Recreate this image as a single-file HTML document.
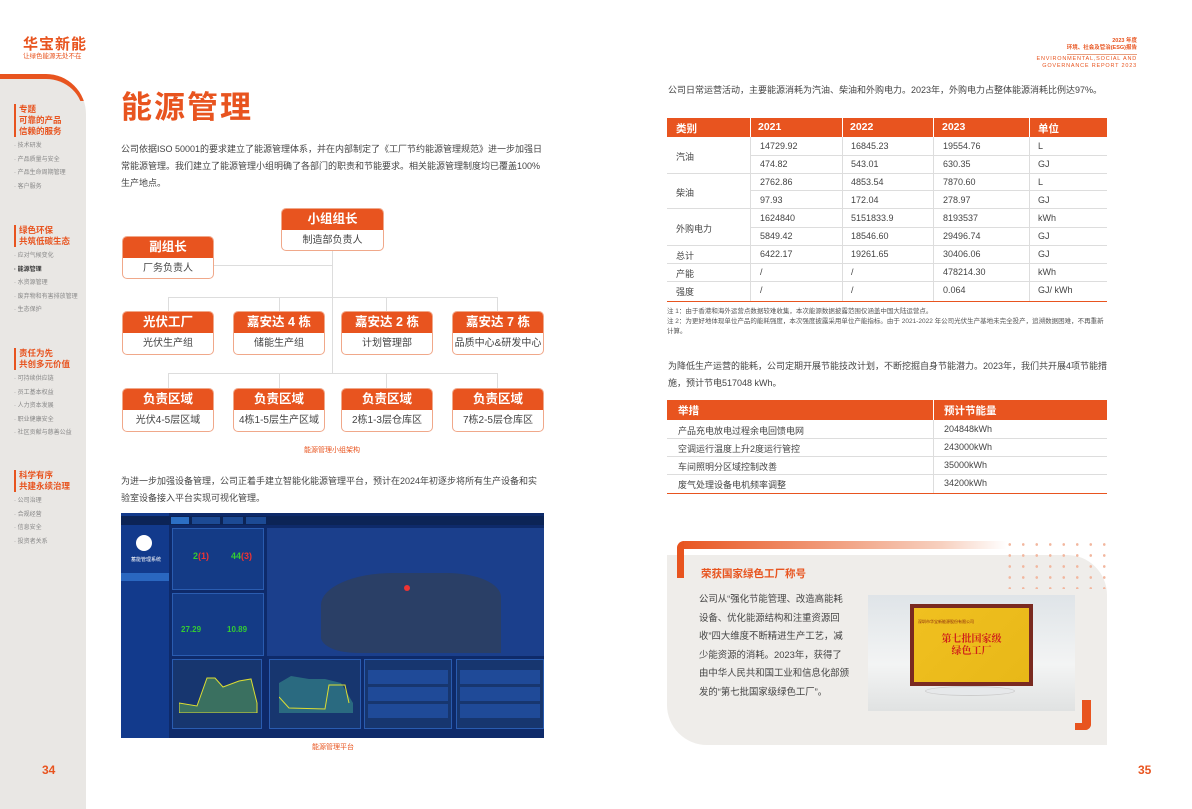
<!DOCTYPE html>
<html><head><meta charset="utf-8">
<style>
*{margin:0;padding:0;box-sizing:border-box}
body{width:1192px;height:809px;position:relative;background:#fff;font-family:"Liberation Sans","Noto Sans CJK SC",sans-serif;color:#444;overflow:hidden}
.a{position:absolute}
.or{color:#e8541f}
.box{position:absolute;border:1px solid #f0a88a;border-radius:5px;background:#fff;overflow:hidden}
.box .h{background:#e8541f;color:#fff;font-size:12.5px;font-weight:bold;text-align:center;height:21px;line-height:21px}
.box .b{font-size:10px;color:#444;text-align:center;line-height:22px}
.ln{position:absolute;background:#ddd}
.side .t{font-size:8.5px;font-weight:bold;color:#e8541f;line-height:11px;border-left:2px solid #e8541f;padding-left:3px}
.side .i{font-size:6px;color:#888;line-height:13.5px}
.tb{position:absolute;font-size:9px;color:#444}
.hd{position:absolute;background:#e8541f;color:#fff;font-weight:bold;font-size:10.5px}
.sep{position:absolute;height:1px;background:#ddd}
p{font-size:9px;line-height:17px;color:#444}
</style></head><body>

<!-- sidebar -->
<div class="a" style="left:0;top:74px;width:86px;height:735px;background:#e9e7e4;border-top-right-radius:40px"></div>
<div class="a" style="left:0;top:74px;width:86px;height:60px;border-top:5px solid #e8541f;border-right:3px solid #e8541f;border-top-right-radius:40px;clip-path:polygon(0 0,100% 0,100% 45%,0 45%)"></div>
<div class="a or" style="left:23px;top:33px;font-size:15px;font-weight:bold;letter-spacing:1px">华宝新能</div>
<div class="a or" style="left:23px;top:50px;font-size:6.5px">让绿色能源无处不在</div>
<div class="a side" style="left:14px;top:104px;width:72px">
 <div class="t">专题<br>可靠的产品<br>信赖的服务</div>
 <div class="i" style="margin-top:3px">· 技术研发<br>· 产品质量与安全<br>· 产品生命周期管理<br>· 客户服务</div>
</div>
<div class="a side" style="left:14px;top:225px;width:72px">
 <div class="t">绿色环保<br>共筑低碳生态</div>
 <div class="i" style="margin-top:3px">· 应对气候变化<br><b style="color:#333">· 能源管理</b><br>· 水资源管理<br>· 废弃物和有害排放管理<br>· 生态保护</div>
</div>
<div class="a side" style="left:14px;top:348px;width:72px">
 <div class="t">责任为先<br>共创多元价值</div>
 <div class="i" style="margin-top:3px">· 可持续供应链<br>· 员工基本权益<br>· 人力资本发展<br>· 职业健康安全<br>· 社区贡献与慈善公益</div>
</div>
<div class="a side" style="left:14px;top:470px;width:72px">
 <div class="t">科学有序<br>共建永续治理</div>
 <div class="i" style="margin-top:3px">· 公司治理<br>· 合规经营<br>· 信息安全<br>· 投资者关系</div>
</div>
<div class="a or" style="left:42px;top:763px;font-size:12px;font-weight:bold">34</div>
<div class="a or" style="left:1138px;top:763px;font-size:12px;font-weight:bold">35</div>

<!-- header right -->
<div class="a or" style="right:55px;top:38px;font-size:5.5px;text-align:right;font-weight:bold;line-height:7px">2023 年度<br>环境、社会及管治(ESG)报告</div>
<div class="a" style="left:1067px;top:54px;width:70px;height:1px;background:#e8a080"></div>
<div class="a or" style="right:55px;top:56px;font-size:5.5px;text-align:right;letter-spacing:.8px;line-height:7px">ENVIRONMENTAL,SOCIAL AND<br>GOVERNANCE REPORT 2023</div>

<!-- title -->
<div class="a or" style="left:121px;top:82px;font-size:31px;font-weight:bold;letter-spacing:2px">能源管理</div>
<p class="a" style="left:121px;top:141px;width:425px">公司依据ISO 50001的要求建立了能源管理体系，并在内部制定了《工厂节约能源管理规范》进一步加强日常能源管理。我们建立了能源管理小组明确了各部门的职责和节能要求。相关能源管理制度均已覆盖100%生产地点。</p>

<!-- org chart lines -->
<div class="ln" style="left:332px;top:251px;width:1px;height:122px"></div>
<div class="ln" style="left:213px;top:265px;width:119px;height:1px"></div>
<div class="ln" style="left:168px;top:297px;width:330px;height:1px"></div>
<div class="ln" style="left:168px;top:373px;width:330px;height:1px"></div>
<div class="ln" style="left:168px;top:297px;width:1px;height:14px"></div>
<div class="ln" style="left:279px;top:297px;width:1px;height:14px"></div>
<div class="ln" style="left:386px;top:297px;width:1px;height:14px"></div>
<div class="ln" style="left:497px;top:297px;width:1px;height:14px"></div>
<div class="ln" style="left:168px;top:373px;width:1px;height:15px"></div>
<div class="ln" style="left:279px;top:373px;width:1px;height:15px"></div>
<div class="ln" style="left:386px;top:373px;width:1px;height:15px"></div>
<div class="ln" style="left:497px;top:373px;width:1px;height:15px"></div>

<div class="box" style="left:281px;top:208px;width:103px;height:43px"><div class="h">小组组长</div><div class="b">制造部负责人</div></div>
<div class="box" style="left:122px;top:236px;width:92px;height:43px"><div class="h">副组长</div><div class="b">厂务负责人</div></div>
<div class="box" style="left:122px;top:311px;width:92px;height:44px"><div class="h">光伏工厂</div><div class="b">光伏生产组</div></div>
<div class="box" style="left:233px;top:311px;width:92px;height:44px"><div class="h">嘉安达 4 栋</div><div class="b">储能生产组</div></div>
<div class="box" style="left:341px;top:311px;width:92px;height:44px"><div class="h">嘉安达 2 栋</div><div class="b">计划管理部</div></div>
<div class="box" style="left:452px;top:311px;width:92px;height:44px"><div class="h">嘉安达 7 栋</div><div class="b">品质中心&amp;研发中心</div></div>
<div class="box" style="left:122px;top:388px;width:92px;height:44px"><div class="h">负责区域</div><div class="b">光伏4-5层区域</div></div>
<div class="box" style="left:233px;top:388px;width:92px;height:44px"><div class="h">负责区域</div><div class="b">4栋1-5层生产区域</div></div>
<div class="box" style="left:341px;top:388px;width:92px;height:44px"><div class="h">负责区域</div><div class="b">2栋1-3层仓库区</div></div>
<div class="box" style="left:452px;top:388px;width:92px;height:44px"><div class="h">负责区域</div><div class="b">7栋2-5层仓库区</div></div>
<div class="a or" style="left:304px;top:445px;font-size:7px">能源管理小组架构</div>

<p class="a" style="left:121px;top:473px;width:425px">为进一步加强设备管理，公司正着手建立智能化能源管理平台，预计在2024年初逐步将所有生产设备和实验室设备接入平台实现可视化管理。</p>

<!-- dashboard -->
<div class="a" style="left:121px;top:513px;width:423px;height:225px;background:#0e2a6a;overflow:hidden">
 <div class="a" style="left:0;top:0;width:48px;height:225px;background:#123a8c"></div>
 <div class="a" style="left:15px;top:22px;width:16px;height:16px;border-radius:50%;background:#fff"></div>
 <div class="a" style="left:10px;top:43px;font-size:5px;color:#fff">蓄能管理系统</div>
 <div class="a" style="left:0;top:60px;width:48px;height:8px;background:#2a67c0"></div>
 <div class="a" style="left:0;top:3px;width:423px;height:9px;background:#0c2456"></div>
 <div class="a" style="left:50px;top:4px;width:18px;height:7px;background:#2c6fc4"></div>
 <div class="a" style="left:71px;top:4px;width:28px;height:7px;background:#1c4a94"></div>
 <div class="a" style="left:102px;top:4px;width:20px;height:7px;background:#1c4a94"></div>
 <div class="a" style="left:125px;top:4px;width:20px;height:7px;background:#1c4a94"></div>
 <div class="a" style="left:51px;top:15px;width:92px;height:62px;background:#143b86;border:1px solid #2a5cb0"></div>
 <div class="a" style="left:51px;top:80px;width:92px;height:63px;background:#143b86;border:1px solid #2a5cb0"></div>
 <div class="a" style="left:72px;top:38px;font-size:9px;color:#3c3;font-weight:bold">2<span style="color:#e33">(1)</span></div>
 <div class="a" style="left:110px;top:38px;font-size:9px;color:#3c3;font-weight:bold">44<span style="color:#e33">(3)</span></div>
 <div class="a" style="left:60px;top:112px;font-size:8px;color:#3c3;font-weight:bold">27.29</div>
 <div class="a" style="left:106px;top:112px;font-size:8px;color:#3c3;font-weight:bold">10.89</div>
 <div class="a" style="left:146px;top:15px;width:277px;height:128px;background:#1b3f8c"></div>
 <div class="a" style="left:200px;top:60px;width:180px;height:80px;background:#2a3f66;border-radius:40% 30% 0 20%"></div>
 <div class="a" style="left:283px;top:72px;width:6px;height:6px;border-radius:50%;background:#e33"></div>
 <div class="a" style="left:51px;top:146px;width:90px;height:70px;background:#17366f;border:1px solid #2a5cb0"></div>
 <div class="a" style="left:148px;top:146px;width:92px;height:70px;background:#17366f;border:1px solid #2a5cb0"></div>
 <svg class="a" style="left:58px;top:160px" width="80" height="40"><path d="M0,30 L18,33 L28,5 L36,5 L44,14 L60,8 L72,6 L78,30 L78,40 L0,40Z" fill="#3a7060" stroke="#dd3" stroke-width="1"/></svg>
 <svg class="a" style="left:158px;top:160px" width="76" height="40"><path d="M0,10 L12,3 L30,6 L46,6 L62,10 L74,30 L74,40 L0,40Z" fill="#2a6a80"/><path d="M0,24 L10,35 L46,36 L50,12 L66,12 L70,30" fill="none" stroke="#dd3"/></svg>
 <div class="a" style="left:243px;top:146px;width:88px;height:70px;background:#17366f;border:1px solid #2a5cb0"></div>
 <div class="a" style="left:335px;top:146px;width:88px;height:70px;background:#17366f;border:1px solid #2a5cb0"></div>
 <div class="a" style="left:247px;top:157px;width:80px;height:14px;background:#1f4a98"></div>
 <div class="a" style="left:247px;top:174px;width:80px;height:14px;background:#1f4a98"></div>
 <div class="a" style="left:247px;top:191px;width:80px;height:14px;background:#1f4a98"></div>
 <div class="a" style="left:339px;top:157px;width:80px;height:14px;background:#1f4a98"></div>
 <div class="a" style="left:339px;top:174px;width:80px;height:14px;background:#1f4a98"></div>
 <div class="a" style="left:339px;top:191px;width:80px;height:14px;background:#1f4a98"></div>
</div>
<div class="a or" style="left:312px;top:742px;font-size:7px">能源管理平台</div>

<!-- right page -->
<p class="a" style="left:668px;top:82px;width:440px">公司日常运营活动，主要能源消耗为汽油、柴油和外购电力。2023年，外购电力占整体能源消耗比例达97%。</p>

<div class="hd" style="left:667px;top:118px;width:440px;height:19px"></div>
<div class="a" style="left:750px;top:118px;width:1px;height:19px;background:#fff"></div>
<div class="a" style="left:842px;top:118px;width:1px;height:19px;background:#fff"></div>
<div class="a" style="left:933px;top:118px;width:1px;height:19px;background:#fff"></div>
<div class="a" style="left:1029px;top:118px;width:1px;height:19px;background:#fff"></div>
<div class="a" style="left:676px;top:121px;color:#fff;font-weight:bold;font-size:10.5px">类别</div>
<div class="a" style="left:758px;top:121px;color:#fff;font-weight:bold;font-size:10.5px">2021</div>
<div class="a" style="left:850px;top:121px;color:#fff;font-weight:bold;font-size:10.5px">2022</div>
<div class="a" style="left:942px;top:121px;color:#fff;font-weight:bold;font-size:10.5px">2023</div>
<div class="a" style="left:1038px;top:121px;color:#fff;font-weight:bold;font-size:10.5px">单位</div>

<div class="sep" style="left:750px;top:155px;width:357px"></div>
<div class="sep" style="left:667px;top:173px;width:440px"></div>
<div class="sep" style="left:750px;top:190px;width:357px"></div>
<div class="sep" style="left:667px;top:208px;width:440px"></div>
<div class="sep" style="left:750px;top:227px;width:357px"></div>
<div class="sep" style="left:667px;top:245px;width:440px"></div>
<div class="sep" style="left:667px;top:263px;width:440px"></div>
<div class="sep" style="left:667px;top:281px;width:440px"></div>
<div class="a" style="left:667px;top:301px;width:440px;height:1px;background:#e8541f"></div>
<div class="a" style="left:750px;top:137px;width:1px;height:164px;background:#ddd"></div>
<div class="a" style="left:842px;top:137px;width:1px;height:164px;background:#ddd"></div>
<div class="a" style="left:933px;top:137px;width:1px;height:164px;background:#ddd"></div>
<div class="a" style="left:1029px;top:137px;width:1px;height:164px;background:#ddd"></div>

<div class="tb" style="left:676px;top:150px">汽油</div>
<div class="tb" style="left:676px;top:186px">柴油</div>
<div class="tb" style="left:676px;top:222px">外购电力</div>
<div class="tb" style="left:676px;top:249px">总计</div>
<div class="tb" style="left:676px;top:267px">产能</div>
<div class="tb" style="left:676px;top:285px">强度</div>

<div class="tb" style="left:760px;top:141px">14729.92</div><div class="tb" style="left:851px;top:141px">16845.23</div><div class="tb" style="left:943px;top:141px">19554.76</div><div class="tb" style="left:1038px;top:141px">L</div>
<div class="tb" style="left:760px;top:159px">474.82</div><div class="tb" style="left:851px;top:159px">543.01</div><div class="tb" style="left:943px;top:159px">630.35</div><div class="tb" style="left:1038px;top:159px">GJ</div>
<div class="tb" style="left:760px;top:177px">2762.86</div><div class="tb" style="left:851px;top:177px">4853.54</div><div class="tb" style="left:943px;top:177px">7870.60</div><div class="tb" style="left:1038px;top:177px">L</div>
<div class="tb" style="left:760px;top:195px">97.93</div><div class="tb" style="left:851px;top:195px">172.04</div><div class="tb" style="left:943px;top:195px">278.97</div><div class="tb" style="left:1038px;top:195px">GJ</div>
<div class="tb" style="left:760px;top:213px">1624840</div><div class="tb" style="left:851px;top:213px">5151833.9</div><div class="tb" style="left:943px;top:213px">8193537</div><div class="tb" style="left:1038px;top:213px">kWh</div>
<div class="tb" style="left:760px;top:231px">5849.42</div><div class="tb" style="left:851px;top:231px">18546.60</div><div class="tb" style="left:943px;top:231px">29496.74</div><div class="tb" style="left:1038px;top:231px">GJ</div>
<div class="tb" style="left:760px;top:249px">6422.17</div><div class="tb" style="left:851px;top:249px">19261.65</div><div class="tb" style="left:943px;top:249px">30406.06</div><div class="tb" style="left:1038px;top:249px">GJ</div>
<div class="tb" style="left:760px;top:267px">/</div><div class="tb" style="left:851px;top:267px">/</div><div class="tb" style="left:943px;top:267px">478214.30</div><div class="tb" style="left:1038px;top:267px">kWh</div>
<div class="tb" style="left:760px;top:285px">/</div><div class="tb" style="left:851px;top:285px">/</div><div class="tb" style="left:943px;top:285px">0.064</div><div class="tb" style="left:1038px;top:285px">GJ/ kWh</div>

<div class="a" style="left:667px;top:307px;width:440px;font-size:6.5px;line-height:10px;color:#555">注 1：由于香港和海外运营点数据较难收集，本次能源数据披露范围仅涵盖中国大陆运营点。<br>注 2：为更好地体现单位产品的能耗强度，本次强度披露采用单位产能指标。由于 2021-2022 年公司光伏生产基地未完全投产，追溯数据困难，不再重新计算。</div>

<p class="a" style="left:668px;top:358px;width:440px">为降低生产运营的能耗，公司定期开展节能技改计划，不断挖掘自身节能潜力。2023年，我们共开展4项节能措施，预计节电517048 kWh。</p>

<div class="hd" style="left:667px;top:400px;width:440px;height:20px"></div>
<div class="a" style="left:933px;top:400px;width:1px;height:20px;background:#fff"></div>
<div class="a" style="left:678px;top:403px;color:#fff;font-weight:bold;font-size:10.5px">举措</div>
<div class="a" style="left:944px;top:403px;color:#fff;font-weight:bold;font-size:10.5px">预计节能量</div>
<div class="a" style="left:933px;top:420px;width:1px;height:73px;background:#ddd"></div>
<div class="sep" style="left:667px;top:438px;width:440px"></div>
<div class="sep" style="left:667px;top:456px;width:440px"></div>
<div class="sep" style="left:667px;top:474px;width:440px"></div>
<div class="a" style="left:667px;top:493px;width:440px;height:1px;background:#e8541f"></div>
<div class="tb" style="left:678px;top:424px">产品充电放电过程余电回馈电网</div><div class="tb" style="left:944px;top:424px">204848kWh</div>
<div class="tb" style="left:678px;top:442px">空调运行温度上升2度运行管控</div><div class="tb" style="left:944px;top:442px">243000kWh</div>
<div class="tb" style="left:678px;top:460px">车间照明分区域控制改善</div><div class="tb" style="left:944px;top:460px">35000kWh</div>
<div class="tb" style="left:678px;top:478px">废气处理设备电机频率调整</div><div class="tb" style="left:944px;top:478px">34200kWh</div>

<!-- award panel -->
<div class="a" style="left:667px;top:555px;width:440px;height:190px;background:#efedea;border-radius:0 40px 0 40px"></div>
<div class="a" style="left:677px;top:541px;width:330px;height:8px;border-radius:8px 0 0 0;background:linear-gradient(90deg,#e8541f,#f7d0bf 80%,#fff)"></div>
<div class="a" style="left:677px;top:541px;width:7px;height:37px;background:#e8541f;border-radius:8px 0 0 0"></div>
<div class="a" style="left:1082px;top:700px;width:9px;height:30px;background:#e8541f;border-radius:0 0 6px 0"></div>
<div class="a" style="left:1075px;top:723px;width:16px;height:7px;background:#e8541f;border-radius:0 0 6px 0"></div>
<div class="a" style="left:1003px;top:539px;width:110px;height:50px;background-image:radial-gradient(circle,#f2b79f 1.2px,transparent 1.5px);background-size:13.5px 11px"></div>
<div class="a or" style="left:701px;top:566px;font-size:10.5px;font-weight:bold">荣获国家绿色工厂称号</div>
<div class="a" style="left:699px;top:590px;width:152px;font-size:9.4px;line-height:18.5px;color:#444;letter-spacing:0">公司从“强化节能管理、改造高能耗设备、优化能源结构和注重资源回收”四大维度不断精进生产工艺，减少能资源的消耗。2023年，获得了由中华人民共和国工业和信息化部颁发的“第七批国家级绿色工厂”。</div>
<div class="a" style="left:868px;top:595px;width:207px;height:116px;background:linear-gradient(180deg,#dfe4e8,#f3f4f4 60%,#e0e2e2)"></div>
<div class="a" style="left:910px;top:604px;width:123px;height:82px;background:#7a2a20;padding:4px"><div style="width:100%;height:100%;background:linear-gradient(135deg,#f0c020,#e8b818);position:relative">
<div class="a" style="left:4px;top:11px;font-size:4px;color:#8a2a10">深圳市华宝新能源股份有限公司</div>
<div class="a" style="left:0;width:100%;top:24px;font-size:10px;color:#d0201a;text-align:center;font-weight:bold;line-height:12px;font-family:'Noto Serif CJK SC',serif">第七批国家级<br>绿色工厂</div></div></div>
<div class="a" style="left:925px;top:686px;width:90px;height:10px;border-radius:50%;background:#e6e8ea;border:1px solid #ccc"></div>
</body></html>
